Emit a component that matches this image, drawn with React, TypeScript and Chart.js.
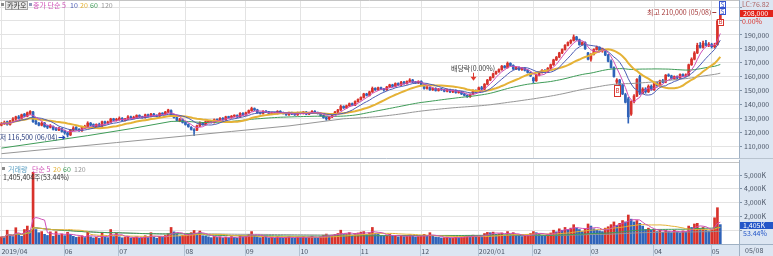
import React, { useEffect, useRef } from "react";
import { Chart, registerables } from "chart.js";

Chart.register(...registerables);

// ---------------- data (price: thousand KRW, volume: thousand shares) ----------------
const tickIdx = [0, 22, 41, 64, 85, 104, 125, 146, 166, 185, 205, 227, 247];
const tickText = ["2019/04", "06", "07", "08", "09", "10", "11", "12", "2020/01", "02", "03", "04", "05"];
const priceTicks = [110, 120, 130, 140, 150, 160, 170, 180, 190, 200, 210];
const volumeTicks = [1000, 2000, 3000, 4000, 5000];

const opens = [
  125,
  126, 127.5, 125.5, 128, 129.5, 131, 130, 133, 131.5, 133.5, 134.5, 128, 126.5, 125, 126.5, 124.5, 123.5, 124, 122.5, 121.5, 122.5,
  121, 119.5, 118, 121.5, 123.5, 122, 121, 123, 124, 126.5, 125.5, 124, 125.5, 124.5, 127.5, 126.5, 127, 129.5, 128.5,
  129, 130, 128.5, 129.5, 131, 130, 130.5, 132, 131, 130.5, 132.5, 131.5, 133, 132, 131.5, 133.5, 133, 134.5, 135.5, 132, 130.5, 128, 129,
  127, 125.5, 123.5, 121.5, 121.5, 124.5, 126.5, 125.5, 127.5, 128, 127, 129, 128.5, 130, 129, 131, 130.5, 131.5, 132, 131, 133.5,
  132.5, 134, 135.5, 137, 136, 134, 133.5, 135, 134.5, 133, 134, 133.5, 135, 134, 133.5, 132.5, 134, 133, 132.5,
  134, 133.5, 134.5, 133, 134, 135, 134, 133.5, 132, 130.5, 129.5, 131, 133, 134.5, 136, 138.5, 137.5, 139, 140.5, 139.5, 142,
  143.5, 145, 147.5, 146.5, 149, 151.5, 150.5, 152, 151, 150.5, 152.5, 154, 153, 155, 154, 156, 155, 156.5, 157.5, 156, 155.5,
  156.5, 154, 151.5, 152, 150.5, 151.5, 150, 151, 150.5, 149.5, 150.5, 149, 150, 148.5, 149, 147.5, 146.5, 145.5, 147.5, 150,
  149, 152, 151, 154.5, 157.5, 159.5, 162, 163.5, 165, 167.5, 166.5, 169.5, 168, 165.5, 166.5, 165, 166, 164.5, 163,
  159, 157, 161, 163, 164.5, 163.5, 166, 168.5, 172, 174, 177, 179.5, 182.5, 184.5, 186, 188.5, 186.5, 183, 184.5, 177,
  172.5, 176, 179.5, 181, 178.5, 178, 175.5, 171, 166.5, 156, 157.5, 154, 147, 144, 133, 142, 146, 160, 148, 151, 149, 153,
  150.5, 155, 153.5, 157, 156, 161, 160.5, 158.5, 160, 159, 161.5, 160.5, 161, 168.5, 172.5, 177, 182.5, 181, 184, 182.5,
  183, 181.5, 183, 201,
];

const highs = [
  127,
  128, 128, 128.5, 130.5, 131.5, 132, 133, 133.5, 134.5, 135.5, 135, 129, 127, 127.5, 127, 125, 125.5, 124.5, 123.5, 123.5, 123,
  121.5, 120, 122, 124, 124, 122.5, 124, 125, 127.5, 127, 126, 126, 126.5, 128, 128, 128, 130, 130, 130,
  131, 130.5, 130, 132, 131.5, 131.5, 132.5, 132.5, 131.5, 133, 133, 133.5, 133.5, 132.5, 134, 134, 135, 136.5, 136, 132.5, 131, 130, 129.5,
  127.5, 126, 124, 122.5, 125, 127.5, 127, 128, 128.5, 128.5, 129.5, 129.5, 130.5, 130.5, 131.5, 131.5, 132, 132.5, 132.5, 134, 134,
  134.5, 136, 138, 137.5, 136.5, 134.5, 135.5, 135.5, 135, 134.5, 134.5, 135.5, 135.5, 134.5, 134, 134.5, 134.5, 133.5, 134.5,
  134.5, 135, 135, 134.5, 135.5, 135.5, 134.5, 134, 132.5, 131, 131.5, 133.5, 135, 136.5, 139.5, 139, 139.5, 141, 141, 142.5, 144,
  145.5, 148, 148, 149.5, 152.5, 152, 152.5, 152.5, 151.5, 153, 154.5, 154.5, 155.5, 155.5, 156.5, 156.5, 157, 158.5, 158, 156.5, 157,
  157, 154.5, 153, 152.5, 152, 152, 151.5, 151.5, 151, 151, 151, 150.5, 150.5, 149.5, 149.5, 148, 147, 147.5, 150.5, 150.5,
  152.5, 153, 155, 158, 160, 162.5, 164, 165.5, 168, 168, 170.5, 170, 168.5, 167, 167, 166.5, 166.5, 165, 163.5,
  159.5, 161.5, 163.5, 165, 165, 166.5, 169, 172.5, 174.5, 177.5, 180, 183, 185, 186.5, 190, 189, 187, 185, 185, 177.5,
  176.5, 180, 182, 181.5, 180.5, 178.5, 176, 172, 167, 158.5, 158, 154.5, 148, 145, 142.5, 147, 158.5, 161, 152, 152, 154, 154,
  155.5, 156, 157.5, 158, 161.5, 162, 161, 160.5, 160.5, 162, 162, 162, 169, 173.5, 178, 184, 184.5, 185.5, 186, 184.5,
  184, 184, 201, 210,
];

const lows = [
  124.5,
  125.5, 125, 125, 127.5, 128.5, 129.5, 129.5, 131, 131, 132.5, 127, 125.5, 124.5, 124.5, 123.5, 122.5, 123, 121.5, 121, 121, 120,
  118.5, 116.5, 117.5, 121, 121.5, 120.5, 120.5, 122.5, 123.5, 124.5, 123.5, 123.5, 124, 124, 126, 126, 126.5, 128, 128,
  128.5, 128, 128, 129, 129.5, 129.5, 130, 130.5, 130, 130, 131, 131, 131.5, 131, 131, 132.5, 132.5, 134, 131.5, 130, 128, 127.5, 126.5,
  125, 123.5, 121.5, 117.5, 121, 124, 125, 125, 127, 126.5, 126.5, 128, 128, 128.5, 128.5, 130, 130, 131, 130.5, 130.5, 132,
  132, 133.5, 135, 135.5, 133.5, 133, 133, 134, 132.5, 132.5, 133, 133, 133.5, 133, 132, 132, 132.5, 132, 132,
  133, 133, 132.5, 132.5, 133.5, 133.5, 133, 131.5, 130, 128.5, 129, 130.5, 132.5, 134, 135.5, 137, 137, 138.5, 139, 139, 141.5,
  143, 144.5, 146, 146, 148.5, 150, 150, 150.5, 149.5, 150, 152, 152.5, 152.5, 153.5, 153.5, 154.5, 154.5, 156, 155.5, 155, 155,
  153.5, 151, 151, 150, 150, 149.5, 149.5, 150, 149, 149, 148.5, 148.5, 148, 148, 147, 146, 145, 145, 147, 148.5,
  148.5, 150.5, 150.5, 154, 157, 159, 161.5, 163, 164.5, 166, 166, 167.5, 165, 165, 164.5, 164.5, 164, 162.5, 160,
  155.5, 156.5, 160.5, 162.5, 163, 163, 165.5, 168, 171.5, 173.5, 176.5, 179, 182, 183.5, 185.5, 186, 182.5, 182.5, 179.5, 172,
  171, 175.5, 179, 178, 177.5, 175, 170.5, 166, 159.5, 154.5, 153, 147, 141, 126.5, 132, 141, 145.5, 147, 147.5, 148, 148.5, 150,
  150, 153, 153, 155.5, 155.5, 160, 158, 158, 158.5, 158.5, 160, 160, 160.5, 168, 172, 176.5, 180.5, 180.5, 182, 181.5,
  180.5, 180.5, 182.5, 199.5,
];

const closes = [
  126,
  127, 125.5, 128, 129.5, 131, 130, 132.5, 131.5, 134, 135, 127.5, 126, 125, 126.5, 124, 123.5, 124.5, 122, 121.5, 122.5, 120.5,
  119.5, 118, 121.5, 123, 122, 121, 123.5, 124, 126.5, 125, 124, 125.5, 124.5, 127.5, 126.5, 127, 129.5, 128.5, 129,
  130, 128.5, 129.5, 131, 130, 130.5, 132, 131, 130.5, 132.5, 131.5, 133, 132, 131.5, 133.5, 133, 134.5, 136, 132, 130.5, 128.5, 129, 127,
  125.5, 124, 122, 121, 124.5, 126.5, 125.5, 127.5, 128, 127, 129, 128.5, 130, 129, 131, 130.5, 131.5, 132, 131, 133.5, 132.5,
  134, 135.5, 137, 136, 134, 133.5, 135, 134.5, 133, 134, 133.5, 135, 134, 133.5, 132.5, 134, 133, 132.5, 134,
  133.5, 134.5, 133, 134, 135, 134, 133.5, 132, 130.5, 129.5, 131, 133, 134.5, 136, 138.5, 137.5, 139, 140.5, 139.5, 142, 143.5,
  145, 147.5, 146.5, 149, 151.5, 150.5, 152, 151, 150.5, 152.5, 154, 153, 155, 154, 156, 155, 156.5, 157.5, 156, 155.5, 156.5,
  154, 151.5, 152, 150.5, 151.5, 150, 151, 150.5, 149.5, 150.5, 149, 150, 148.5, 149, 147.5, 146.5, 145.5, 147, 150, 149,
  152, 151, 154.5, 157.5, 159.5, 162, 163.5, 165, 167.5, 166.5, 169.5, 168, 165.5, 166.5, 165, 166, 164.5, 163, 160.5,
  157, 161, 163, 164.5, 163.5, 166, 168.5, 172, 174, 177, 179.5, 182.5, 184.5, 186, 188.5, 186.5, 183, 184.5, 180, 172.5,
  176, 179.5, 181, 178.5, 180, 175.5, 171, 166.5, 160, 157.5, 154, 147.5, 141.5, 131, 142, 146, 158, 148, 151, 149, 153, 150.5,
  155, 153.5, 157, 156, 161, 160.5, 158.5, 160, 159, 161.5, 160.5, 161, 168.5, 172.5, 177, 182.5, 181, 184, 182.5, 183,
  181.5, 182.5, 200, 208,
];

const volumes = [
  520,
  480, 1000, 620, 540, 1180, 700, 560, 1050, 1300, 980, 5200, 1050, 820, 900, 700, 620, 880, 560, 900, 640, 720,
  600, 850, 700, 560, 480, 520, 600, 470, 860, 520, 440, 480, 420, 840, 500, 460, 1050, 540, 780,
  520, 450, 480, 560, 430, 470, 520, 410, 450, 600, 470, 820, 500, 420, 560, 480, 620, 760, 1200, 880, 700, 560, 620,
  680, 740, 820, 980, 700, 940, 600, 580, 520, 460, 560, 480, 520, 440, 500, 460, 540, 480, 420, 620, 520,
  560, 700, 900, 620, 540, 460, 520, 480, 440, 500, 420, 540, 470, 430, 480, 560, 450, 420, 500,
  480, 540, 460, 500, 560, 470, 440, 520, 640, 720, 600, 640, 700, 760, 1000, 700, 740, 820, 640, 760, 800,
  860, 900, 700, 820, 1200, 780, 740, 620, 560, 640, 700, 560, 620, 520, 600, 540, 580, 660, 560, 500, 540,
  620, 700, 560, 820, 560, 500, 480, 440, 460, 500, 420, 440, 480, 460, 520, 560, 600, 500, 640, 520,
  600, 560, 760, 840, 820, 860, 700, 740, 800, 660, 900, 720, 820, 620, 560, 540, 600, 660, 760,
  900, 820, 700, 640, 600, 720, 800, 1000, 880, 1100, 1000, 1200, 1050, 1150, 1400, 1150, 1050, 900, 1100, 1450,
  1300, 1100, 1000, 950, 900, 1150, 1250, 1400, 1600, 1350, 1500, 1700, 1600, 2100, 1800, 1600, 1700, 1500, 1300, 1050, 1150, 1000,
  1050, 900, 1000, 850, 1000, 900, 820, 1000, 880, 800, 950, 860, 1300, 1200, 1450, 1500, 1100, 1200, 1000, 950,
  1000, 1900, 2630, 1405,
];

// Moving averages 60/120 before enough in-chart history exists
const ma60EarlyIdx = [0, 15, 30, 45];
const ma60EarlyVal = [108.5, 113, 117.5, 122.5];
const ma120EarlyIdx = [0, 20, 40, 60, 80, 100];
const ma120EarlyVal = [104.5, 108.5, 112.5, 116.5, 120.5, 124.5];

const exDivIdx = 164;
const lastDateText = "05/08";
const lcText = "LC:76.82";
const lastVolumeText = "1,405,404주(53.44%)";
const lastVolumeRatio = "53.44%";

// ---------------- styling ----------------
const FONT = "'Noto Sans CJK KR', 'Noto Sans', sans-serif";
const UP = "#d8322b";
const DOWN = "#2f63b9";
const GRID = "#e3e3e3";
const BAND = "#dce6f2";
const AXT = "#4a5566";
const C5 = "#cf4fb6";
const C10 = "#4d5db5";
const C20 = "#e5b236";
const C60 = "#3f9c58";
const C120 = "#979797";

function sma(src: number[], n: number): number[] {
  return src.map((_, i) => {
    const s = Math.max(0, i - n + 1);
    let t = 0;
    for (let k = s; k <= i; k++) t += src[k];
    return t / (i - s + 1);
  });
}
function smaEarly(src: number[], n: number, eIdx: number[], eVal: number[]) {
  const full = sma(src, n);
  return full.map((v, i) => {
    if (i >= n - 1) return v;
    const k = eIdx.indexOf(i);
    return k >= 0 ? eVal[k] : null;
  });
}
const fmt = (v: number) => Math.round(v).toLocaleString("en-US");

function text(ctx: CanvasRenderingContext2D, s: string, x: number, y: number, color: string, align: CanvasTextAlign = "left", size = 7, bold = false) {
  ctx.font = `${bold ? "bold " : ""}${size}px ${FONT}`;
  ctx.fillStyle = color;
  ctx.textAlign = align;
  ctx.textBaseline = "middle";
  ctx.fillText(s, x, y);
}
function hline(ctx: CanvasRenderingContext2D, x1: number, x2: number, y: number, color: string) {
  ctx.strokeStyle = color;
  ctx.lineWidth = 1;
  ctx.beginPath();
  ctx.moveTo(x1, Math.round(y) + 0.5);
  ctx.lineTo(x2, Math.round(y) + 0.5);
  ctx.stroke();
}
function vline(ctx: CanvasRenderingContext2D, x: number, y1: number, y2: number, color: string) {
  ctx.strokeStyle = color;
  ctx.lineWidth = 1;
  ctx.beginPath();
  ctx.moveTo(Math.round(x) + 0.5, y1);
  ctx.lineTo(Math.round(x) + 0.5, y2);
  ctx.stroke();
}

function xScale(showLabels: boolean) {
  return {
    type: "category" as const,
    offset: true,
    grid: { offset: false, color: GRID, drawTicks: false, lineWidth: 1 },
    border: { display: false },
    ticks: {
      display: showLabels,
      autoSkip: false,
      maxRotation: 0,
      minRotation: 0,
      align: "start" as const,
      padding: 3,
      color: AXT,
      font: { family: FONT, size: 7 },
      callback: (v: any) => {
        const k = tickIdx.indexOf(Number(v));
        return k >= 0 ? tickText[k] : "";
      },
    },
    afterBuildTicks: (s: any) => {
      s.ticks = s.ticks.filter((t: any) => tickIdx.includes(t.value));
    },
    afterFit: (s: any) => {
      s.height = showLabels ? 12 : 0;
      s.paddingLeft = 0;
      s.paddingRight = 0;
    },
  };
}

function yScale(min: number, max: number, values: number[], label: (v: number) => string) {
  return {
    type: "linear" as const,
    position: "right" as const,
    min,
    max,
    grid: { color: GRID, drawTicks: true, tickLength: 3, tickColor: "#7f93a8" },
    border: { display: false },
    ticks: {
      padding: 2,
      color: AXT,
      font: { family: FONT, size: 7 },
      callback: (v: any) => label(Number(v)),
    },
    afterBuildTicks: (s: any) => {
      s.ticks = values.map((v) => ({ value: v }));
    },
    afterFit: (s: any) => {
      s.width = 34;
      s.paddingTop = 0;
      s.paddingBottom = 0;
    },
  };
}

export default function App() {
  const priceRef = useRef<HTMLCanvasElement>(null);
  const volRef = useRef<HTMLCanvasElement>(null);

  useEffect(() => {
    document.body.style.margin = "0";
    const n = closes.length;
    const slots = n + 6;
    const labels = Array.from({ length: slots }, (_, i) => String(i));
    const candleColor = closes.map((c, i) => (c >= opens[i] ? UP : DOWN));
    const volColor = volumes.map((v, i) => (i === 0 || v >= volumes[i - 1] ? UP : DOWN));

    const ma5 = sma(closes, 5);
    const ma10 = sma(closes, 10);
    const ma20 = sma(closes, 20);
    const ma60 = smaEarly(closes, 60, ma60EarlyIdx, ma60EarlyVal);
    const ma120 = smaEarly(closes, 120, ma120EarlyIdx, ma120EarlyVal);

    const vma5 = sma(volumes, 5);
    const vma20 = sma(volumes, 20);
    const vma60 = sma(volumes, 60);
    const vma120 = sma(volumes, 120);

    let hiIdx = 0;
    let loIdx = 0;
    highs.forEach((h, i) => { if (h > highs[hiIdx]) hiIdx = i; });
    lows.forEach((l, i) => { if (l < lows[loIdx]) loIdx = i; });

    const line = (data: any[], color: string, width: number, order: number) => ({
      type: "line" as const,
      data,
      borderColor: color,
      borderWidth: width,
      pointRadius: 0,
      spanGaps: true,
      tension: 0,
      order,
    });

    const pricePlugin = {
      id: "pricePanel",
      beforeDraw(chart: any) {
        const { ctx, chartArea: a, width, height } = chart;
        ctx.save();
        ctx.fillStyle = "#ffffff";
        ctx.fillRect(0, 0, width, height);
        ctx.fillStyle = BAND;
        ctx.fillRect(a.right, 0, width - a.right, height);
        ctx.restore();
      },
      afterDraw(chart: any) {
        const { ctx, chartArea: a, width } = chart;
        const xs = chart.scales.x;
        const ys = chart.scales.y;
        ctx.save();
        hline(ctx, 0, a.right, 0, "#c4c4c4");
        hline(ctx, 0, width, a.bottom, "#b8c3cf");
        vline(ctx, a.right, 0, a.bottom, "#9fb1c4");

        // legend
        ctx.fillStyle = "#8a8a8a";
        ctx.fillRect(1, 3, 3, 3);
        ctx.fillStyle = "#e7e7e7";
        ctx.fillRect(5.5, 1.5, 22, 8);
        ctx.strokeStyle = "#a3a3a3";
        ctx.strokeRect(5.5, 1.5, 22, 8);
        text(ctx, "카카오", 7, 5.8, "#2a2a2a");
        ctx.fillStyle = "#8d97b8";
        ctx.fillRect(29, 3, 3, 3);
        text(ctx, "종가 단순 5", 33, 5.8, C5);
        text(ctx, "10", 70, 5.8, C10);
        text(ctx, "20", 80, 5.8, C20);
        text(ctx, "60", 90, 5.8, C60);
        text(ctx, "120", 101, 5.8, C120);

        // lowest
        const xl = xs.getPixelForValue(loIdx);
        const yl = ys.getPixelForValue(lows[loIdx]);
        text(ctx, `최저 ${fmt(lows[loIdx] * 1000)} (06/04)`, xl - 10, yl, "#24387a", "right");
        ctx.strokeStyle = "#2046b8";
        ctx.fillStyle = "#2046b8";
        ctx.beginPath();
        ctx.moveTo(xl - 9, Math.round(yl) + 0.5);
        ctx.lineTo(xl - 4, Math.round(yl) + 0.5);
        ctx.stroke();
        ctx.beginPath();
        ctx.moveTo(xl - 2, Math.round(yl) + 0.5);
        ctx.lineTo(xl - 5, Math.round(yl) - 2);
        ctx.lineTo(xl - 5, Math.round(yl) + 3);
        ctx.closePath();
        ctx.fill();

        // highest
        const xh = xs.getPixelForValue(hiIdx);
        const yh = ys.getPixelForValue(highs[hiIdx]);
        text(ctx, `최고 ${fmt(highs[hiIdx] * 1000)} (05/08)`, xh - 9, yh + 5, "#a63a3a", "right");
        hline(ctx, xh - 8, xh - 4, yh + 5, "#a63a3a");

        // ex-dividend marker
        const xd = xs.getPixelForValue(exDivIdx);
        const yd = ys.getPixelForValue(highs[exDivIdx]);
        text(ctx, "배당락(0.00%)", xd, yd - 21, "#3a3a3a", "center");
        ctx.strokeStyle = "#e03a2e";
        ctx.fillStyle = "#e03a2e";
        ctx.beginPath();
        ctx.moveTo(Math.round(xd) + 0.5, yd - 17);
        ctx.lineTo(Math.round(xd) + 0.5, yd - 12);
        ctx.stroke();
        ctx.beginPath();
        ctx.moveTo(xd - 2.5, yd - 13);
        ctx.lineTo(xd + 3.5, yd - 13);
        ctx.lineTo(xd + 0.5, yd - 9);
        ctx.closePath();
        ctx.fill();

        // signal boxes
        const box = (cx: number, y1: number, h: number, color: string, ch: string) => {
          ctx.fillStyle = "rgba(255,255,255,0.9)";
          ctx.fillRect(Math.round(cx) - 2.5, Math.round(y1) + 0.5, 6, h);
          ctx.strokeStyle = color;
          ctx.strokeRect(Math.round(cx) - 2.5, Math.round(y1) + 0.5, 6, h);
          text(ctx, ch, Math.round(cx) + 0.5, y1 + h / 2 + 0.5, color, "center", 6);
        };
        const xb = xs.getPixelForValue(214);
        box(xb, ys.getPixelForValue(lows[214]) + 1, 11, "#d8322b", "B");
        const xe = xs.getPixelForValue(n - 1);
        box(xe, ys.getPixelForValue(opens[n - 1]) - 1, 6, "#d8322b", "B");
        box(xe + 2, 1, 6, "#3555d0", "S");
        box(xe + 2, 8, 6, "#3555d0", "S");

        // right axis annotations
        text(ctx, lcText, a.right + 3, 4, "#b06a6a", "left", 7);
        const yc = ys.getPixelForValue(closes[n - 1]) + 3;
        ctx.fillStyle = "#e2231a";
        ctx.fillRect(a.right + 1, Math.round(yc) - 3, width - a.right - 1, 7);
        text(ctx, fmt(closes[n - 1] * 1000), a.right + 4, Math.round(yc) + 0.5, "#ffffff", "left", 7);
        text(ctx, "0.00%", a.right + 3, Math.round(yc) + 8, "#d8322b", "left", 7);
        ctx.restore();
      },
    };

    const volPlugin = {
      id: "volPanel",
      beforeDraw(chart: any) {
        const { ctx, chartArea: a, width, height } = chart;
        ctx.save();
        ctx.fillStyle = "#ffffff";
        ctx.fillRect(0, 0, width, height);
        ctx.fillStyle = BAND;
        ctx.fillRect(a.right, 0, width - a.right, height);
        ctx.fillRect(0, a.bottom, width, height - a.bottom);
        ctx.restore();
      },
      afterDraw(chart: any) {
        const { ctx, chartArea: a, width, height } = chart;
        const xs = chart.scales.x;
        const ys = chart.scales.y;
        ctx.save();
        hline(ctx, 0, a.right, a.top - 1, "#c4c4c4");
        hline(ctx, 0, width, a.bottom, "#9fb1c4");
        vline(ctx, a.right, 0, height, "#9fb1c4");
        tickIdx.forEach((i) => {
          if (i === 0) return;
          vline(ctx, xs.getPixelForValue(i) - 1, a.bottom + 1, height, "#b3c3d4");
        });

        // legend
        ctx.fillStyle = "#8a8a8a";
        ctx.fillRect(2, 7, 3, 3);
        text(ctx, "거래량", 8, 9, "#5a9fc2");
        text(ctx, "단순 5", 32, 9, C5);
        text(ctx, "20", 53, 9, C20);
        text(ctx, "60", 63, 9, C60);
        text(ctx, "120", 74, 9, C120);
        text(ctx, lastVolumeText, 3, 17.5, "#333333");

        // current volume box
        const yv = ys.getPixelForValue(volumes[volumes.length - 1]);
        ctx.fillStyle = "#2356c8";
        ctx.fillRect(a.right + 1, Math.round(yv) - 3, width - a.right - 1, 7);
        text(ctx, `${fmt(volumes[volumes.length - 1])}K`, a.right + 4, Math.round(yv) + 0.5, "#ffffff");
        text(ctx, lastVolumeRatio, a.right + 4, Math.round(yv) + 8, "#2356c8");

        text(ctx, lastDateText, a.right + 6, a.bottom + 6, AXT);
        ctx.restore();
      },
    };

    const priceChart = new Chart(priceRef.current as HTMLCanvasElement, {
      type: "bar",
      data: {
        labels,
        datasets: [
          line(ma120, C120, 1, 5),
          line(ma60, C60, 1, 4),
          line(ma20, C20, 2, 3),
          line(ma10, C10, 1, 2),
          line(ma5, C5, 1, 1),
          {
            type: "bar" as const,
            data: lows.map((l, i) => [l, highs[i]]),
            backgroundColor: candleColor,
            barThickness: 1,
            grouped: false,
            order: 11,
          } as any,
          {
            type: "bar" as const,
            data: opens.map((o, i) => [o, closes[i]]),
            backgroundColor: candleColor,
            barThickness: 2,
            minBarLength: 1,
            grouped: false,
            order: 10,
          } as any,
        ],
      },
      options: {
        responsive: false,
        animation: false,
        devicePixelRatio: 1,
        layout: { padding: { left: 0, right: 0, top: 0, bottom: 2 } },
        plugins: { legend: { display: false }, tooltip: { enabled: false } },
        scales: {
          x: xScale(false) as any,
          y: yScale(101.4, 215.1, priceTicks, (v) => (v >= 110 && v <= 190 ? fmt(v * 1000) : "")) as any,
        },
      },
      plugins: [pricePlugin],
    });

    const volChart = new Chart(volRef.current as HTMLCanvasElement, {
      type: "bar",
      data: {
        labels,
        datasets: [
          line(vma120, C120, 1, 4),
          line(vma60, C60, 1, 3),
          line(vma20, C20, 1, 2),
          line(vma5, C5, 1, 1),
          {
            type: "bar" as const,
            data: volumes,
            backgroundColor: volColor,
            barThickness: 2,
            grouped: false,
            order: 10,
          } as any,
        ],
      },
      options: {
        responsive: false,
        animation: false,
        devicePixelRatio: 1,
        layout: { padding: { left: 0, right: 0, top: 3, bottom: 0 } },
        plugins: { legend: { display: false }, tooltip: { enabled: false } },
        scales: {
          x: xScale(true) as any,
          y: yScale(0, 5870, volumeTicks, (v) => (v >= 2000 ? `${fmt(v)}K` : "")) as any,
        },
      },
      plugins: [volPlugin],
    });

    return () => {
      priceChart.destroy();
      volChart.destroy();
    };
  }, []);

  return (
    <div style={{ position: "relative", width: 773, height: 256, overflow: "hidden", background: "#fff" }}>
      <canvas ref={priceRef} width={773} height={160} style={{ position: "absolute", left: 0, top: 0, width: 773, height: 160 }} />
      <canvas ref={volRef} width={773} height={96} style={{ position: "absolute", left: 0, top: 160, width: 773, height: 96 }} />
    </div>
  );
}
